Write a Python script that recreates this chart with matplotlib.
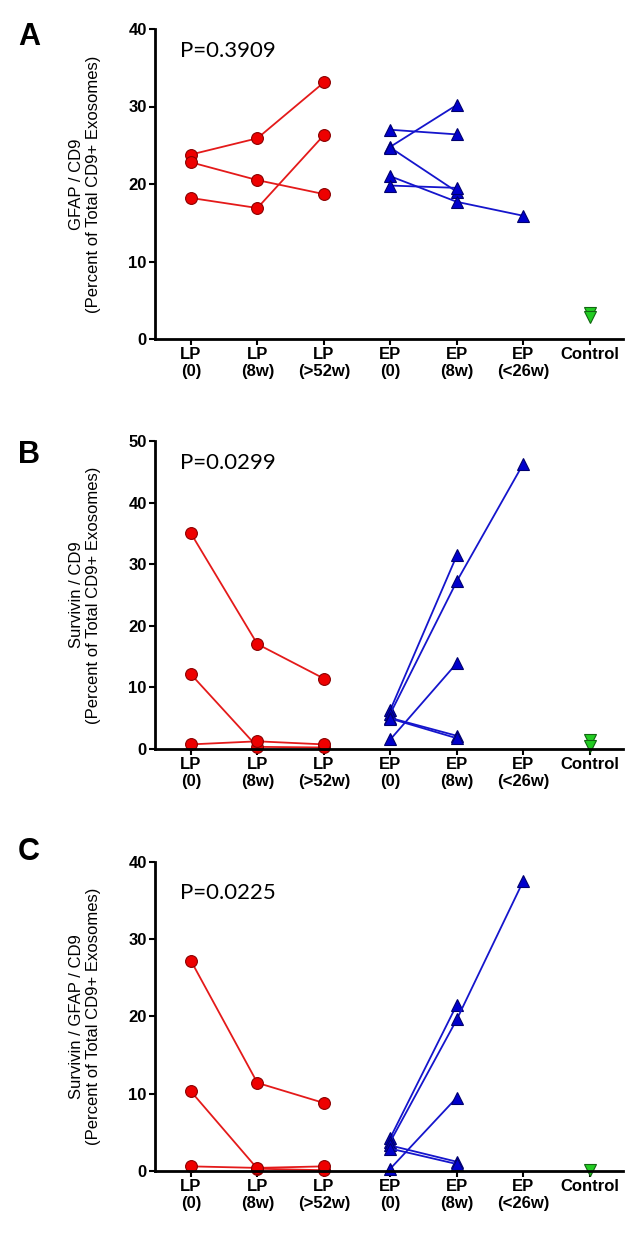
import matplotlib
matplotlib.use('Agg')
import matplotlib.pyplot as plt

plt.rcParams['font.family'] = ['Liberation Sans', 'DejaVu Sans']

categories = ['LP\n(0)', 'LP\n(8w)', 'LP\n(>52w)', 'EP\n(0)', 'EP\n(8w)', 'EP\n(<26w)', 'Control']

# panel A: GFAP / CD9
a_lp = [[23.8, 25.9, 33.1], [22.8, 20.5, 18.7], [18.2, 16.9, 26.3]]
a_ep = [[27.0, 26.4], [24.8, 30.2], [24.7, 19.0], [21.0, 17.7, 15.9], [19.8, 19.5]]
a_ctrl = [3.3, 2.9]

# panel B: Survivin / CD9
b_lp = [[35.0, 17.0, 11.4], [12.1, 0.3, 0.2], [0.7, 1.2, 0.7]]
b_ep = [[6.3, 31.4], [5.7, 27.2, 46.3], [5.0, 2.1], [4.9, 1.7], [1.5, 13.9]]
b_ctrl = [1.4, 0.4]

# panel C: Survivin / GFAP / CD9
c_lp = [[27.2, 11.4, 8.8], [10.3, 0.3, 0.1], [0.6, 0.4, 0.6]]
c_ep = [[4.3, 21.5], [3.8, 19.6, 37.5], [3.3, 1.2], [2.9, 0.9], [0.3, 9.5]]
c_ctrl = [0.1]

panels = [
    ('A', a_lp, a_ep, a_ctrl, 'P=0.3909', 40, 'GFAP / CD9\n(Percent of Total CD9+ Exosomes)'),
    ('B', b_lp, b_ep, b_ctrl, 'P=0.0299', 50, 'Survivin / CD9\n(Percent of Total CD9+ Exosomes)'),
    ('C', c_lp, c_ep, c_ctrl, 'P=0.0225', 40, 'Survivin / GFAP / CD9\n(Percent of Total CD9+ Exosomes)'),
]

# axes boxes in pixels: (top, bottom)
boxes = [(29, 339), (441, 748.7), (861.7, 1171)]
letter_y = [37, 455, 852]
p_y = [51, 463, 893]

W, H = 641, 1241
fig = plt.figure(figsize=(W / 100, H / 100), dpi=100)

for (letter, lp, ep, ctrl, ptxt, ymax, ylab), (top, bot), ly, py in zip(panels, boxes, letter_y, p_y):
    ax = fig.add_axes([155 / W, 1 - bot / H, (623 - 155) / W, (bot - top) / H])
    for s in lp:
        ax.plot(range(len(s)), s, color='#e41a1a', lw=1.3, marker='o', ms=8.5,
                mfc='#ee0000', mec='#8b0000', mew=0.8)
    for s in ep:
        ax.plot(range(3, 3 + len(s)), s, color='#1515cc', lw=1.3, marker='^', ms=9,
                mfc='#0000cc', mec='#00006e', mew=0.8)
    ax.plot([6] * len(ctrl), ctrl, ls='none', marker='v', ms=9,
            mfc='#22cc22', mec='#116611', mew=0.8)
    ax.set_xlim(-0.54, 6.5)
    ax.set_ylim(0, ymax)
    ax.set_yticks(range(0, ymax + 1, 10))
    ax.set_xticks(range(7))
    ax.set_xticklabels(categories, fontsize=12, fontweight='bold', linespacing=1.15)
    for t in ax.get_yticklabels():
        t.set_fontsize(12)
        t.set_fontweight('bold')
    ax.spines['top'].set_visible(False)
    ax.spines['right'].set_visible(False)
    ax.spines['left'].set_linewidth(2)
    ax.spines['bottom'].set_linewidth(2)
    ax.tick_params(axis='both', width=1.5, length=4, pad=2)
    for ln in ax.lines:
        ln.set_clip_on(False)

    fig.text(85 / W, 1 - (top + bot) / 2 / H, ylab, rotation=90, ha='center', va='center',
             fontsize=12, multialignment='center', linespacing=1.1)
    fig.text(29 / W, 1 - ly / H, letter, ha='center', va='center', fontsize=22, fontweight='bold')
    fig.text(180 / W, 1 - py / H, ptxt, ha='left', va='center', fontsize=16, family=['Lato', 'DejaVu Sans'])

fig.savefig('out.png', dpi=100)
